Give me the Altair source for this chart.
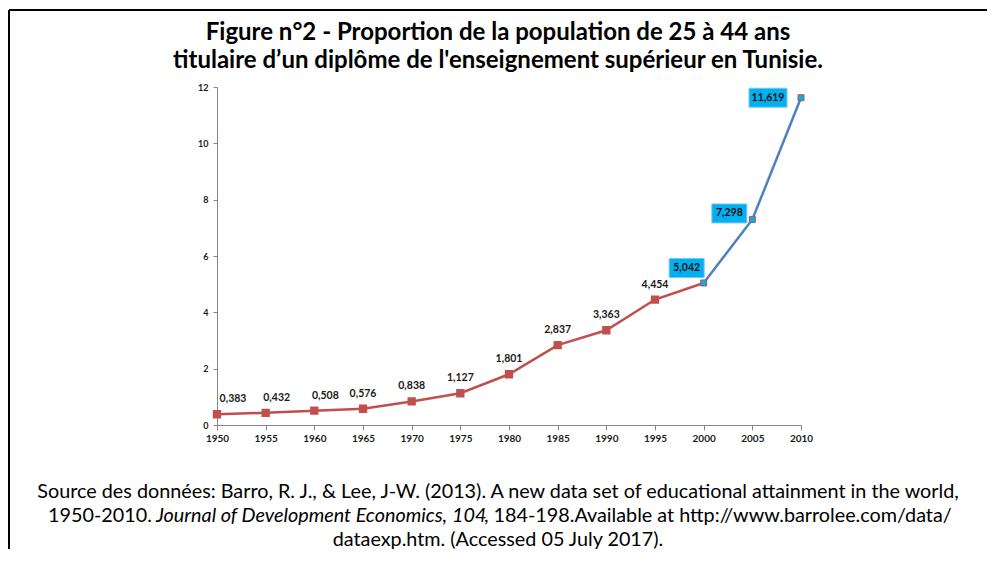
import altair as alt
import pandas as pd

# ---- data ----
years = [1950, 1955, 1960, 1965, 1970, 1975, 1980, 1985, 1990, 1995, 2000, 2005, 2010]
values = [0.383, 0.432, 0.508, 0.576, 0.838, 1.127, 1.801, 2.837, 3.363, 4.454, 5.042, 7.298, 11.619]
x_ticks = [1950, 1955, 1960, 1965, 1970, 1975, 1980, 1985, 1990, 1995, 2000, 2005, 2010]
y_ticks = [0, 2, 4, 6, 8, 10, 12]
title_lines = [
    "Figure n°2 - Proportion de la population de 25 à 44 ans",
    "titulaire d\u2019un diplôme de l'enseignement supérieur en Tunisie.",
]
caption_line1 = "Source des données: Barro, R. J., & Lee, J-W. (2013). A new data set of educational attainment in the world,"
caption_line2_parts = [
    "1950-2010.",
    "Journal of Development Economics",
    ",",
    "104",
    ", 184-198.Available at http://www.barrolee.com/data/",
]
caption_line2_styles = ["normal", "italic", "normal", "italic", "normal"]
caption_line3 = "dataexp.htm. (Accessed 05 July 2017)."

FONT = "Lato"
RED = "#C0504D"
BLUE = "#4F81BD"
CYAN = "#00B0F0"

W, H = 584, 338
PLOT_LEFT, PLOT_TOP = 217, 87  # page coordinates of plot origin


def px(page_x):
    return page_x - PLOT_LEFT


def py(page_y):
    return page_y - PLOT_TOP


df = pd.DataFrame({"year": years, "value": values})

x_enc = alt.X(
    "year:Q",
    scale=alt.Scale(domain=[1950, 2010], nice=False, zero=False),
    axis=alt.Axis(
        values=x_ticks, format="d", title=None, grid=False,
        domainColor="#868686", tickColor="#868686", tickSize=5,
        labelFont=FONT, labelFontWeight="bold", labelFontSize=10,
        labelColor="#1a1a1a", labelPadding=3, labelFlush=False,
    ),
)
y_enc = alt.Y(
    "value:Q",
    scale=alt.Scale(domain=[0, 12], nice=False),
    axis=alt.Axis(
        values=y_ticks, title=None, grid=False,
        domainColor="#868686", tickColor="#868686", tickSize=4,
        labelFont=FONT, labelFontWeight="bold", labelFontSize=9,
        labelColor="#1a1a1a", labelPadding=5,
    ),
)

base = alt.Chart(df).encode(x=x_enc, y=y_enc)

red_line = base.transform_filter("datum.year <= 2000").mark_line(color=RED, strokeWidth=2.5)
blue_line = base.transform_filter("datum.year >= 2000").mark_line(color=BLUE, strokeWidth=2.5)

red_sq = base.transform_filter("datum.year <= 1995").mark_point(
    shape="square", filled=True, fill=RED, stroke=RED, size=40, opacity=1
)
cyan_sq = base.transform_filter("datum.year >= 2000").mark_point(
    shape="square", filled=True, fill=CYAN, stroke=RED, strokeWidth=1, size=36, opacity=1
)

lab = base.transform_calculate(lbl="replace(format(datum.value, '.3f'), '.', ',')")


def red_labels(cond, dx):
    return lab.transform_filter(cond).mark_text(
        font=FONT, fontWeight="bold", fontSize=10.5, color="#1a1a1a", dx=dx, dy=-15
    ).encode(text="lbl:N")


labels = [
    red_labels("datum.year == 1950", 16),
    red_labels("datum.year == 1955 || datum.year == 1960", 11),
    red_labels("datum.year >= 1965 && datum.year <= 1995", 0),
]


def box_label(year, ox, oy, bw, bh):
    shape = "M-1,-%.4fH1V%.4fH-1Z" % (bh / bw, bh / bw)
    sel = lab.transform_filter("datum.year == %d" % year)
    box = sel.mark_point(
        shape=shape, filled=True, fill=CYAN, stroke="#7cc8ec", strokeWidth=1,
        size=bw * bw, opacity=1, xOffset=ox, yOffset=oy,
    )
    txt = sel.mark_text(
        font=FONT, fontWeight="bold", fontSize=10.5, color="#111111", dx=ox, dy=oy
    ).encode(text="lbl:N")
    return [box, txt]


boxes = box_label(2000, -17, -15, 35, 19) + box_label(2005, -23, -6, 35, 19) + box_label(2010, -33, 0, 38, 19)

# ---- title ----
title_layers = []
for i, line in enumerate(title_lines):
    title_layers.append(
        alt.Chart(pd.DataFrame({"t": [line]})).mark_text(
            font=FONT, fontWeight="bold", fontSize=24, color="#000000",
            align="center", baseline="alphabetic",
        ).encode(text="t:N", x=alt.value(px(498)), y=alt.value(py([40, 68][i])))
    )

# ---- caption ----
CAP_SIZE = 19.8
caption_layers = [
    alt.Chart(pd.DataFrame({"t": [caption_line1]})).mark_text(
        font=FONT, fontSize=CAP_SIZE, color="#000000", align="center", baseline="alphabetic"
    ).encode(text="t:N", x=alt.value(px(498)), y=alt.value(py(498))),
    alt.Chart(pd.DataFrame({"t": [caption_line3]})).mark_text(
        font=FONT, fontSize=CAP_SIZE, color="#000000", align="center", baseline="alphabetic"
    ).encode(text="t:N", x=alt.value(px(498)), y=alt.value(py(546))),
]
seg_x = [48, 156, 442, 452, 484]
for part, style, sx in zip(caption_line2_parts, caption_line2_styles, seg_x):
    caption_layers.append(
        alt.Chart(pd.DataFrame({"t": [part]})).mark_text(
            font=FONT, fontSize=CAP_SIZE, fontStyle=style, color="#000000",
            align="left", baseline="alphabetic",
        ).encode(text="t:N", x=alt.value(px(sx)), y=alt.value(py(522)))
    )

# ---- frame lines ----
frame_df = pd.DataFrame({"k": [0]})
top_rule = alt.Chart(frame_df).mark_rule(color="#000000", strokeWidth=2).encode(
    x=alt.value(px(9)), x2=alt.value(px(989)), y=alt.value(py(10))
)
left_rule = alt.Chart(frame_df).mark_rule(color="#000000", strokeWidth=2).encode(
    x=alt.value(px(9)), y=alt.value(py(10)), y2=alt.value(py(549))
)

chart = alt.layer(
    red_line, blue_line, red_sq, cyan_sq, *labels, *boxes,
    *title_layers, *caption_layers, top_rule, left_rule,
).properties(
    width=W, height=H,
    autosize=alt.AutoSizeParams(type="none"),
    padding={"left": 209, "top": 79, "right": 186, "bottom": 124},
    background="white",
).configure_view(stroke=None)

chart.save("out.html", embed_options={"renderer": "svg", "actions": False})
